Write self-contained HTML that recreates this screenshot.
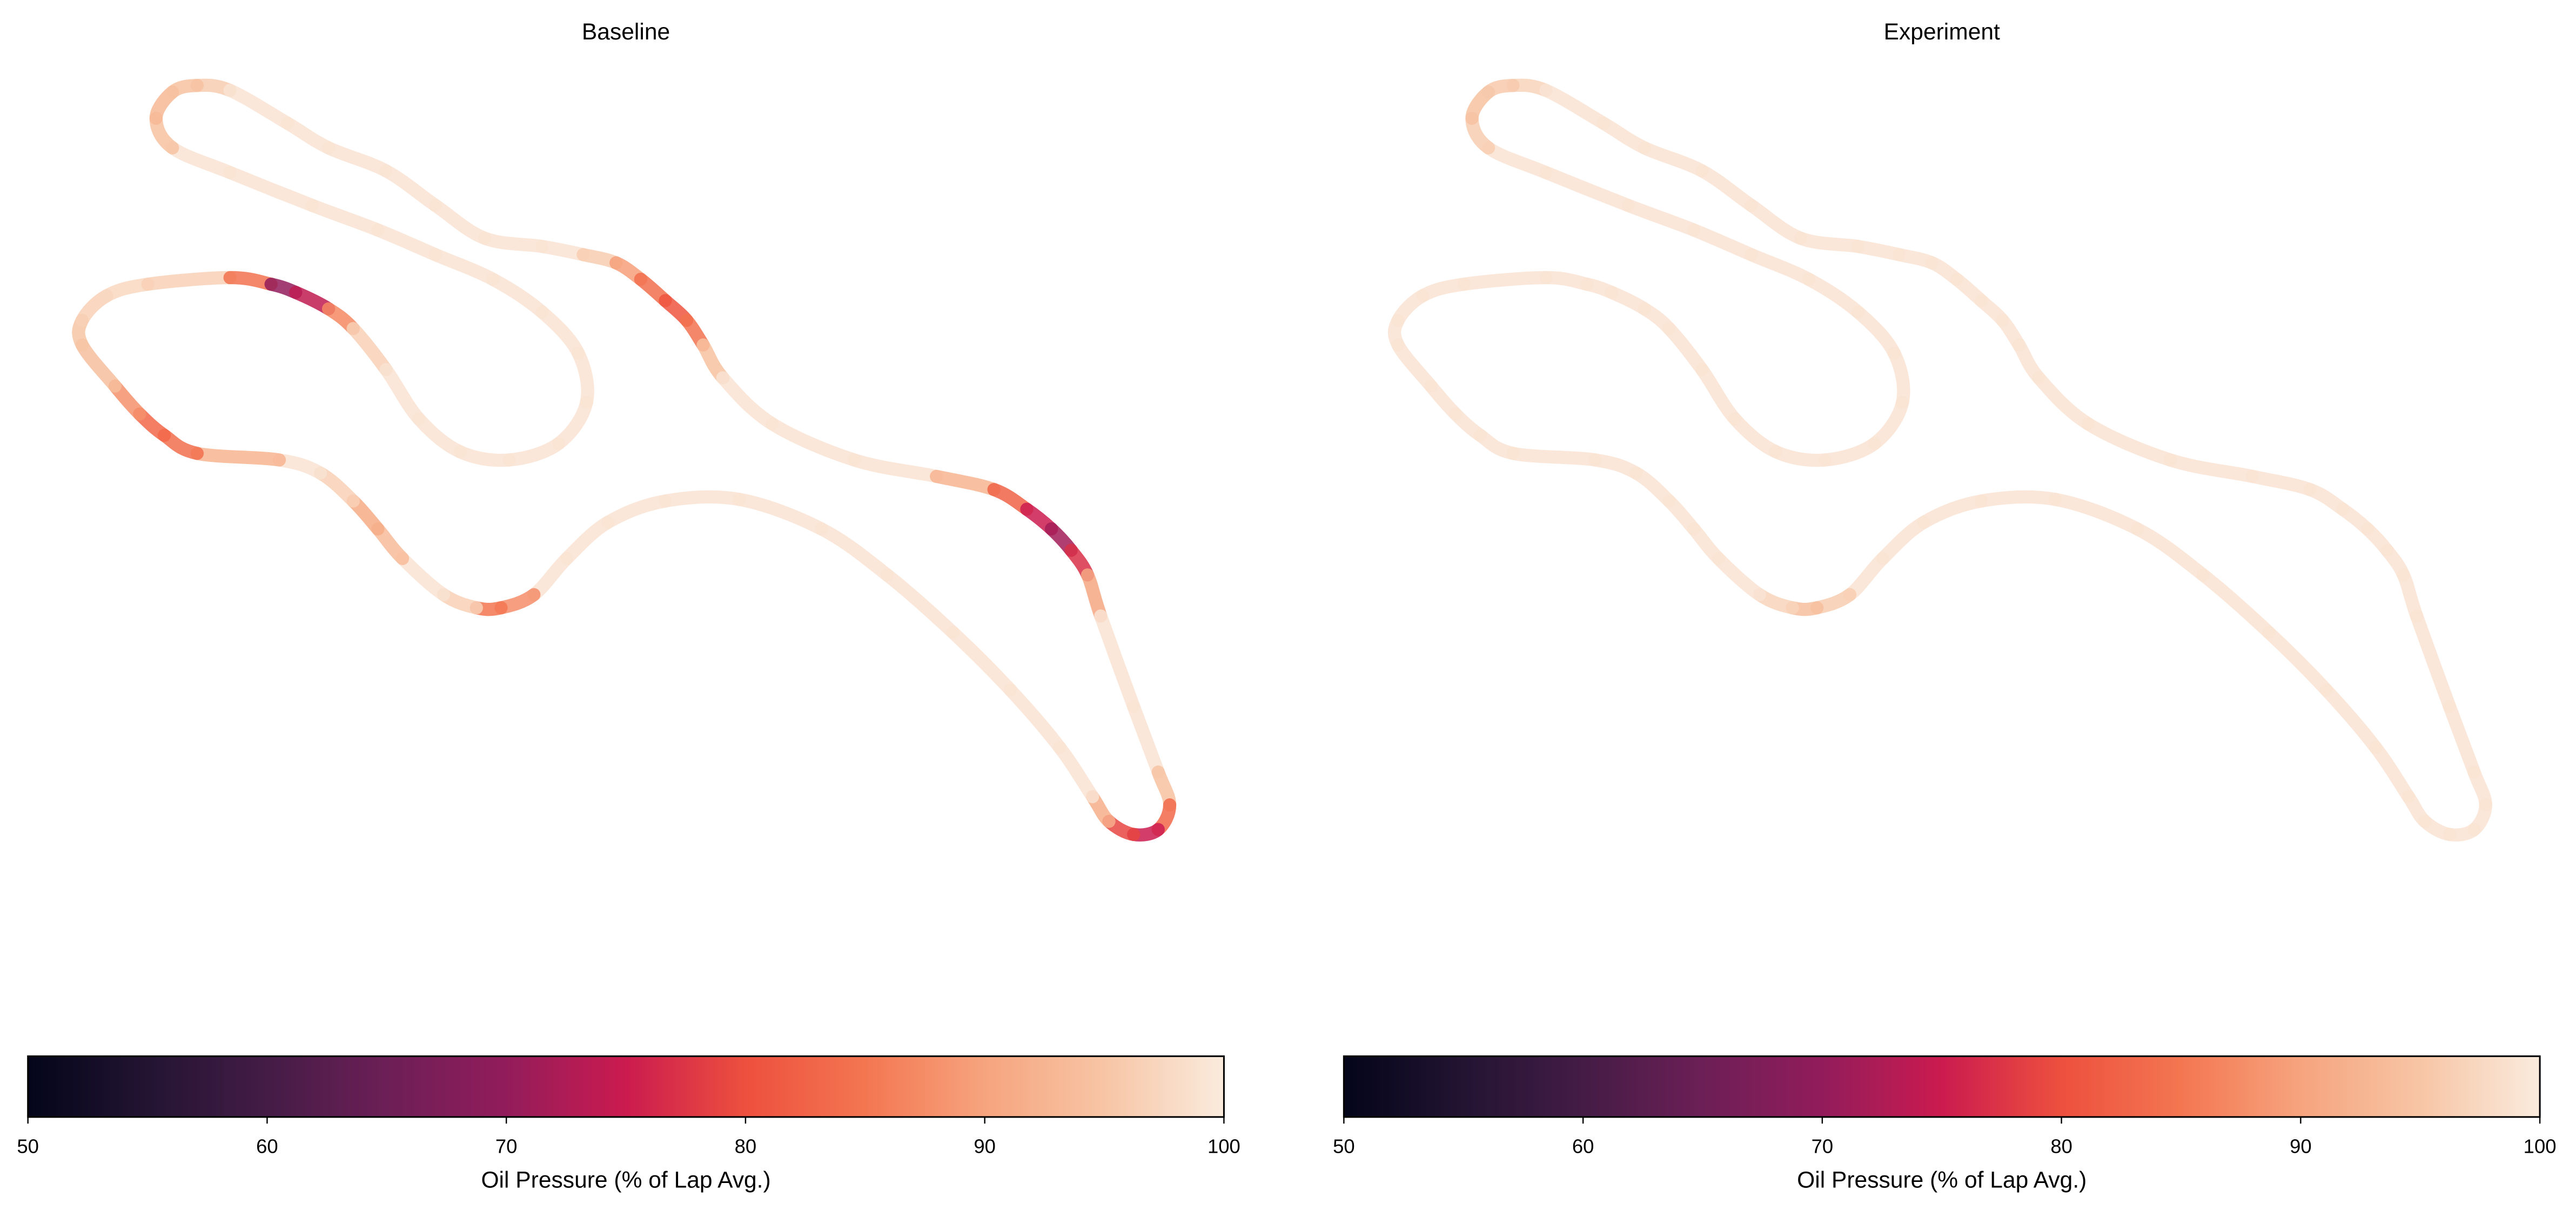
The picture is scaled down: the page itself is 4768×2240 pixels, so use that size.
<!DOCTYPE html>
<html><head><meta charset="utf-8"><style>
html,body{margin:0;padding:0;background:#fff}
svg{display:block}
text{font-family:"Liberation Sans",sans-serif;fill:#000}
</style></head><body>
<svg id="chart" width="4768" height="2240" viewBox="0 0 1568 736.6" xmlns="http://www.w3.org/2000/svg">
<defs>
<linearGradient id="rocket" x1="0" x2="1" y1="0" y2="0">
<stop offset="0" stop-color="#03051a"/><stop offset="0.1" stop-color="#231432"/><stop offset="0.2" stop-color="#441c46"/><stop offset="0.3" stop-color="#6c1f56"/><stop offset="0.4" stop-color="#921c5b"/><stop offset="0.5" stop-color="#cb1b4f"/><stop offset="0.6" stop-color="#ed503e"/><stop offset="0.7" stop-color="#f37651"/><stop offset="0.8" stop-color="#f6a47e"/><stop offset="0.9" stop-color="#f7c5a5"/><stop offset="1" stop-color="#faebdd"/>
</linearGradient>
</defs>
<g id="panels"></g>
</svg>
<script>
// Track waypoints (data units) and oil pressure (% of lap avg.)
const trackX=[120,140,175,200,235,265,295,330,355,375,390,405,418,428,440,470,520,570,605,625,640,652,662,670,690,705,712,705,690,675,665,645,615,580,540,500,450,405,370,345,325,305,290,270,245,230,215,195,170,120,100,85,70,50,50,65,90,140,165,180,200,215,235,255,280,310,340,357,352,330,300,265,230,190,140,105,95,105];
const trackY=[52,55,75,90,104,125,145,150,155,160,170,183,195,210,230,258,280,290,298,310,322,335,350,375,430,470,490,505,508,500,485,455,420,385,350,322,304,305,318,340,362,370,370,362,340,322,305,288,280,276,265,252,235,210,195,180,173,169,173,178,188,200,225,255,275,280,270,245,215,190,170,155,140,125,105,90,72,56];
const pressureBase=[93,99,99,99,99,99,99,99,99,93,86,82,79,90,99,99,99,99,86,79,71,72,82,99,99,99,90,76,74,84,99,99,99,99,99,99,99,99,99,99,99,76,94,99,99,88,94,99,99,86,82,84,92,96,94,99,96,97,72,68,80,94,99,99,99,99,99,99,99,99,99,99,99,99,99,99,90,96];
const pressureExp=[95,99,99,99,99,99,99,99,99,99,99,99,99,99,99,99,99,99,99,99,99,99,99,99,99,99,99,99,99,99,99,99,99,99,99,99,99,99,99,99,99,93,95,99,99,99,99,99,99,99,99,99,99,99,99,99,99,99,99,99,99,99,99,99,99,99,99,99,99,99,99,99,99,99,99,99,93,96];
const ticks=[50,60,70,80,90,100];
const titles=["Baseline","Experiment"];

const stops=[[0,[3,5,26]],[.1,[35,20,50]],[.2,[68,28,70]],[.3,[108,31,86]],[.4,[146,28,91]],[.5,[203,27,79]],[.6,[237,80,62]],[.7,[243,118,81]],[.8,[246,164,126]],[.9,[247,197,165]],[1,[250,235,221]]];
function cmap(v){let t=Math.max(0,Math.min(1,(v-50)/50));for(let i=1;i<stops.length;i++){if(t<=stops[i][0]){const a=stops[i-1],b=stops[i];const f=(t-a[0])/(b[0]-a[0]);return `rgb(${a[1].map((c,k)=>Math.round(c+(b[1][k]-c)*f)).join(',')})`;}}return 'rgb(250,235,221)';}
const NS="http://www.w3.org/2000/svg";
function mk(tag,attrs,parent){const e=document.createElementNS(NS,tag);for(const k in attrs)e.setAttribute(k,attrs[k]);parent.appendChild(e);return e;}
const root=document.getElementById('panels');
const n=trackX.length;
function P(i){i=(i+n)%n;return [trackX[i],trackY[i]];}
[pressureBase,pressureExp].forEach((pres,pi)=>{
  const ox=pi*801;
  const g=mk('g',{transform:`translate(${ox},0)`},root);
  
  
  const t=mk('text',{x:381,y:24,'text-anchor':'middle','font-size':14},g);t.textContent=titles[pi];
  
  
  const tr=mk('g',{},g);
  
  
  for(let i=0;i<n;i++){
    const p0=P(i-1),p1=P(i),p2=P(i+1),p3=P(i+2);
    const c1=[p1[0]+(p2[0]-p0[0])/6,p1[1]+(p2[1]-p0[1])/6];
    const c2=[p2[0]-(p3[0]-p1[0])/6,p2[1]-(p3[1]-p1[1])/6];
    const v=(pres[i]+pres[(i+1)%n])/2;
    const s=mk('path',{d:`M${p1[0]},${p1[1]}C${c1[0]},${c1[1]} ${c2[0]},${c2[1]} ${p2[0]},${p2[1]}`,fill:'none',stroke:cmap(v),'stroke-width':8,'stroke-linecap':'round','stroke-opacity':0.85},tr);
    
    
  }
  const cb=mk('g',{},g);
  
  
  const x0=17,x1=745;
  mk('rect',{x:x0,y:643,width:x1-x0,height:37,fill:'url(#rocket)',stroke:'#000','stroke-width':1},cb);
  ticks.forEach(tk=>{
    const x=x0+(tk-50)/50*(x1-x0);
    mk('line',{x1:x,x2:x,y1:680,y2:684,stroke:'#000','stroke-width':0.8},cb);
    const l=mk('text',{x:x,y:702,'text-anchor':'middle','font-size':12},cb);l.textContent=tk;
    
    
  });
  const ct=mk('text',{x:381,y:723,'text-anchor':'middle','font-size':14},cb);ct.textContent="Oil Pressure (% of Lap Avg.)";
  
  
});
</script>
</body></html>
